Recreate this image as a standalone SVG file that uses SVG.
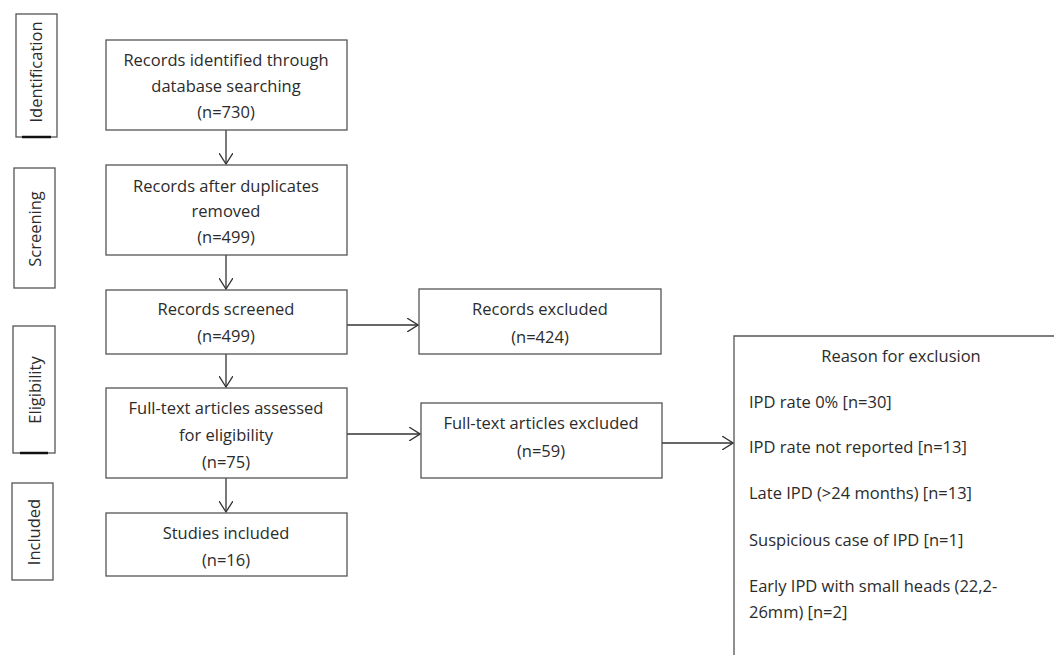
<svg xmlns="http://www.w3.org/2000/svg" width="1054" height="655" viewBox="0 0 1054 655">
<defs>
<style>
.box{fill:#fff;stroke:#555;stroke-width:1.3}
.t{font-family:"Open Sans","Liberation Sans",sans-serif;font-size:16.5px;fill:#2b2b2b;text-anchor:middle}
.l{font-family:"Open Sans","Liberation Sans",sans-serif;font-size:16.5px;fill:#2b2b2b}
.c{stroke:#333;stroke-width:1.3;fill:none}
.sb{stroke:#111;stroke-width:2.5}
</style>
<marker id="ah" viewBox="0 0 12 14" refX="11" refY="7" markerWidth="12" markerHeight="14" markerUnits="userSpaceOnUse" orient="auto">
<path d="M0,0 L11,7 L0,14" fill="none" stroke="#333" stroke-width="1.3"/>
</marker>
</defs>
<rect width="1054" height="655" fill="#fff"/>

<g id="stage-identification">
<rect class="box" x="16" y="14" width="41" height="123"/>
<line class="sb" x1="22" y1="137" x2="51" y2="137"/>
<text class="t" transform="translate(42,72) rotate(-90)">Identification</text>
</g>
<g id="stage-screening">
<rect class="box" x="14" y="168" width="41" height="120"/>
<text class="t" transform="translate(41,229) rotate(-90)">Screening</text>
</g>
<g id="stage-eligibility">
<rect class="box" x="13" y="326" width="42" height="127"/>
<line class="sb" x1="20" y1="453" x2="48" y2="453"/>
<text class="t" transform="translate(41,390) rotate(-90)">Eligibility</text>
</g>
<g id="stage-included">
<rect class="box" x="12" y="483" width="41" height="97"/>
<text class="t" transform="translate(40,532) rotate(-90)">Included</text>
</g>

<g id="connectors">
<line class="c" x1="226" y1="130" x2="226" y2="164" marker-end="url(#ah)"/>
<line class="c" x1="226" y1="255" x2="226" y2="289" marker-end="url(#ah)"/>
<line class="c" x1="226" y1="354" x2="226" y2="387" marker-end="url(#ah)"/>
<line class="c" x1="226" y1="478" x2="226" y2="512" marker-end="url(#ah)"/>
<line class="c" x1="347" y1="325" x2="418" y2="325" marker-end="url(#ah)"/>
<line class="c" x1="347" y1="434" x2="420" y2="434" marker-end="url(#ah)"/>
<line class="c" x1="662" y1="443" x2="733" y2="443" marker-end="url(#ah)"/>
</g>

<g id="records-identified">
<rect class="box" x="106" y="40" width="241" height="90"/>
<text class="t" x="226" y="66">Records identified through</text>
<text class="t" x="226" y="92">database searching</text>
<text class="t" x="226" y="118">(n=730)</text>
</g>
<g id="records-after-duplicates">
<rect class="box" x="106" y="165" width="241" height="90"/>
<text class="t" x="226" y="192">Records after duplicates</text>
<text class="t" x="226" y="217">removed</text>
<text class="t" x="226" y="243">(n=499)</text>
</g>
<g id="records-screened">
<rect class="box" x="106" y="290" width="241" height="64"/>
<text class="t" x="226" y="315">Records screened</text>
<text class="t" x="226" y="342">(n=499)</text>
</g>
<g id="full-text-assessed">
<rect class="box" x="106" y="388" width="241" height="90"/>
<text class="t" x="226" y="414">Full-text articles assessed</text>
<text class="t" x="226" y="441">for eligibility</text>
<text class="t" x="226" y="468">(n=75)</text>
</g>
<g id="studies-included">
<rect class="box" x="106" y="513" width="241" height="63"/>
<text class="t" x="226" y="539">Studies included</text>
<text class="t" x="226" y="566">(n=16)</text>
</g>
<g id="records-excluded">
<rect class="box" x="419" y="289" width="242" height="65"/>
<text class="t" x="540" y="315">Records excluded</text>
<text class="t" x="540" y="343">(n=424)</text>
</g>
<g id="full-text-excluded">
<rect class="box" x="421" y="403" width="241" height="75"/>
<text class="t" x="541" y="429">Full-text articles excluded</text>
<text class="t" x="541" y="457">(n=59)</text>
</g>
<g id="reason-for-exclusion">
<path class="box" d="M1060,336 H734 V660"/>
<text class="t" x="901" y="362">Reason for exclusion</text>
<text class="l" x="749" y="408">IPD rate 0% [n=30]</text>
<text class="l" x="749" y="453">IPD rate not reported [n=13]</text>
<text class="l" x="749" y="499">Late IPD (&gt;24 months) [n=13]</text>
<text class="l" x="749" y="546">Suspicious case of IPD [n=1]</text>
<text class="l" x="749" y="592">Early IPD with small heads (22,2-</text>
<text class="l" x="749" y="618">26mm) [n=2]</text>
</g>
</svg>
